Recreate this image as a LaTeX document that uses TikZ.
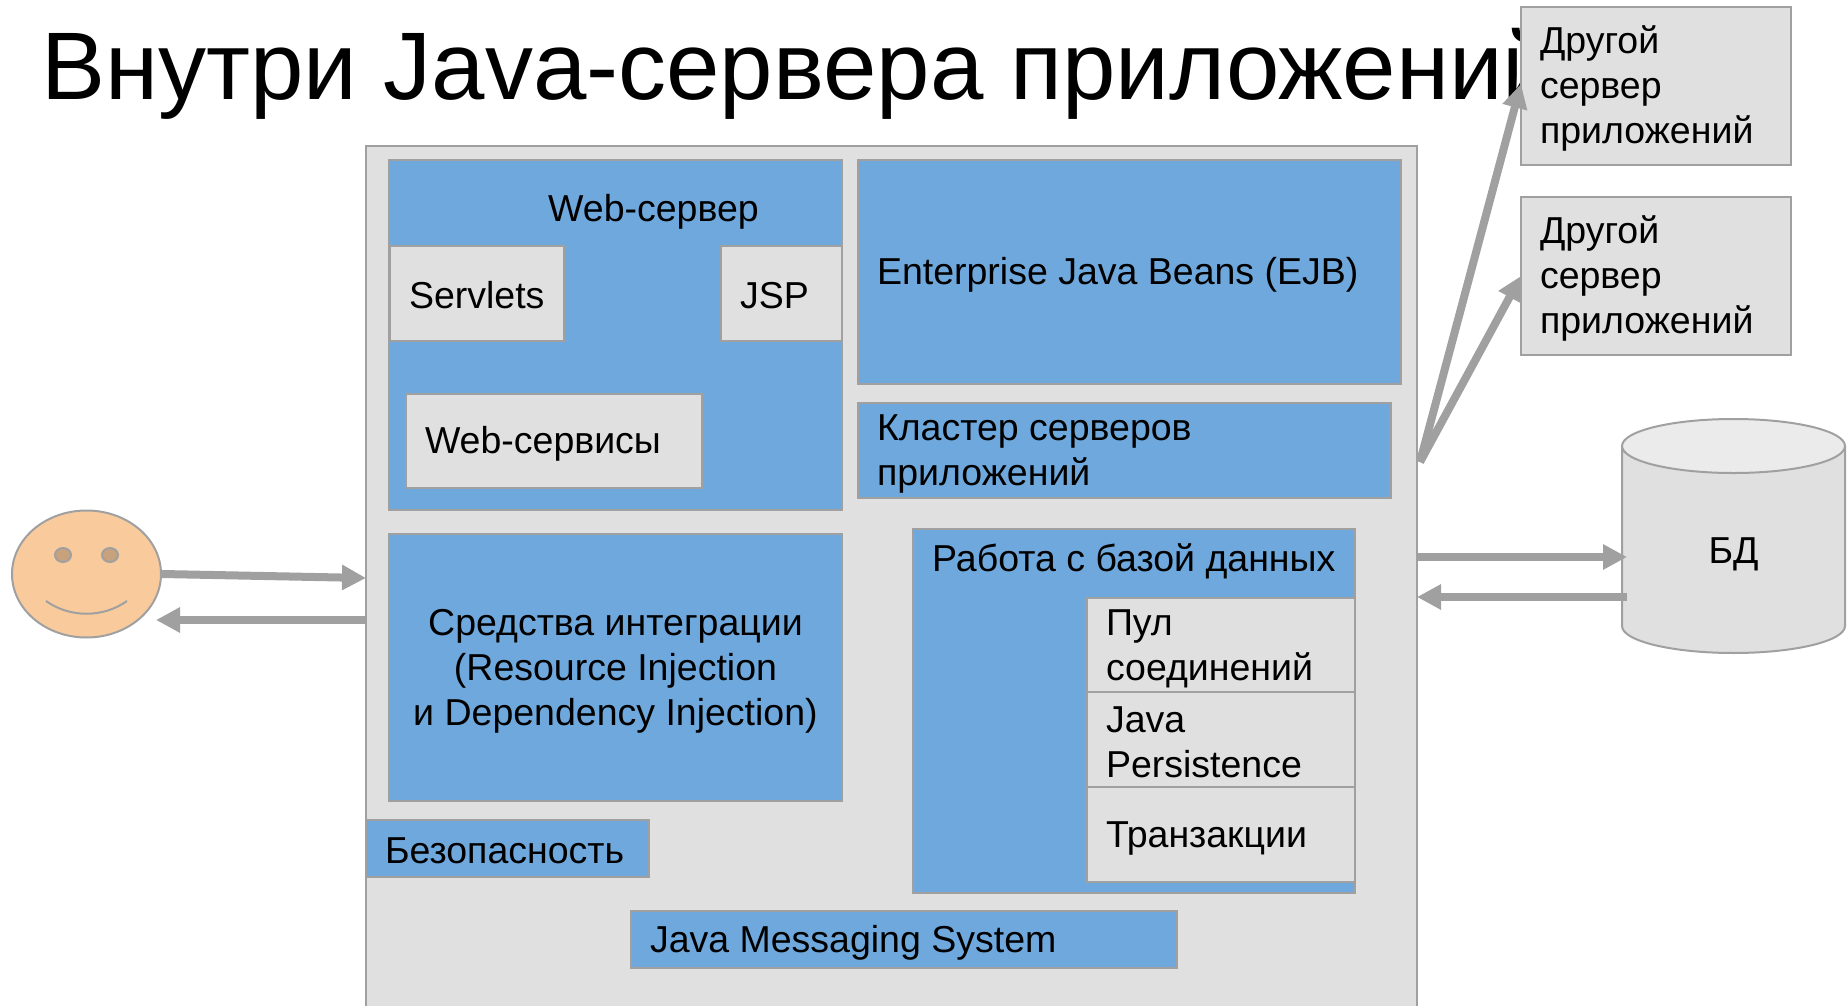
\documentclass[tikz,border=0pt]{standalone}
\usepackage{fontspec}
\setmainfont{Liberation Sans}
\usetikzlibrary{arrows.meta,shapes.geometric}
\definecolor{lineGray}{HTML}{A0A0A0}
\definecolor{boxGray}{HTML}{E0E0E0}
\definecolor{boxBlue}{HTML}{6FA8DC}
\definecolor{faceSkin}{HTML}{F9CB9C}
\definecolor{eyeBrown}{HTML}{C7A27D}
\definecolor{topGray}{HTML}{EBEBEB}
\tikzset{
    grayBox/.style={draw=lineGray,line width=2pt,fill=boxGray,anchor=north west,outer sep=0pt,inner xsep=19pt,inner ysep=0pt,
        align=flush left,font=\fontsize{37.5}{45}\selectfont,
        execute at begin node={\rule{0pt}{33.5pt}},execute at end node={\rule[-3pt]{0pt}{3pt}}},
    blueBox/.style={grayBox,fill=boxBlue},
    plainText/.style={anchor=west,inner sep=0pt,font=\fontsize{37.5}{45}\selectfont},
    flow/.style={draw=lineGray,line width=8pt,-{Triangle[length=24pt,width=24pt]}},
}
\begin{document}
\begin{tikzpicture}[x=1pt,y=-1pt]
    \useasboundingbox (0,0) rectangle (1848,1006);

    \node[anchor=west,inner sep=0pt,font=\fontsize{96}{110}\selectfont] (title) at (41,74) {Внутри Java-сервера приложений};

    % main box runs off the page
    \node[grayBox,text width=1013pt,minimum height=890pt] (server) at (366,146) {};

    \node[blueBox,text width=415pt,minimum height=350pt] (web) at (389,160) {};
    \node[plainText] (webText) at (548,212) {Web-сервер};
    \node[grayBox,text width=136pt,minimum height=95pt] (servlets) at (390,246) {Servlets};
    \node[grayBox,text width=83pt,minimum height=95pt] (jsp) at (721,246) {JSP};
    \node[grayBox,text width=258pt,minimum height=94pt] (services) at (406,394) {Web-сервисы};

    \node[blueBox,text width=505pt,minimum height=224pt] (ejb) at (858,160) {Enterprise Java Beans (EJB)};
    \node[blueBox,text width=495pt,minimum height=95pt] (cluster) at (858,403) {Кластер серверов\\приложений};

    \node[blueBox,text width=415pt,minimum height=267pt,align=flush center] (integration) at (389,534)
        {Средства интеграции\\(Resource Injection\\и Dependency Injection)};
    \node[blueBox,text width=245pt,minimum height=57pt] (security) at (366,820) {Безопасность};

    \node[blueBox,text width=404pt,minimum height=364pt] (database) at (913,529) {};
    \node[plainText] (databaseText) at (932,561.5) {Работа с базой данных};
    \node[grayBox,text width=230pt,minimum height=94pt] (pool) at (1087,598) {Пул\\соединений};
    \node[grayBox,text width=230pt,minimum height=95pt] (persistence) at (1087,692) {Java\\Persistence};
    \node[grayBox,text width=230pt,minimum height=95pt] (transactions) at (1087,787) {Транзакции};

    \node[blueBox,text width=508pt,minimum height=57pt] (messaging) at (631,911) {Java Messaging System};

    \node[grayBox,text width=232pt,minimum height=158pt] (otherA) at (1521,7) {Другой\\сервер\\приложений};
    \node[grayBox,text width=232pt,minimum height=158pt] (otherB) at (1521,197) {Другой\\сервер\\приложений};

    \node[shape=cylinder,shape border rotate=90,aspect=1.08,draw=lineGray,line width=2pt,anchor=shape center,
        cylinder uses custom fill,cylinder body fill=boxGray,cylinder end fill=topGray,
        minimum width=223pt,minimum height=234pt,inner sep=0pt,
        font=\fontsize{37.5}{45}\selectfont] (db) at (1733.5,536) {\phantom{БД}};
    \node[plainText,anchor=center] (dbText) at (1733.5,554) {БД};

    % user
    \node[shape=ellipse,draw=lineGray,line width=2pt,fill=faceSkin,minimum width=149pt,minimum height=127pt,inner sep=0pt] (face) at (86.5,574) {};
    \node[shape=ellipse,draw=lineGray,line width=2pt,fill=eyeBrown,minimum width=16pt,minimum height=14pt,inner sep=0pt] (eyeL) at (63,555) {};
    \node[shape=ellipse,draw=lineGray,line width=2pt,fill=eyeBrown,minimum width=16pt,minimum height=14pt,inner sep=0pt] (eyeR) at (110,555) {};
    \coordinate (smileL) at (46,601);
    \coordinate (smileR) at (127,601);
    \draw[lineGray,line width=2pt] (smileL) .. controls (70,618) and (103,618) .. (smileR);

    \coordinate (serverIn) at (366,578);
    \coordinate (serverOut) at (366,620);
    \coordinate (faceIn) at (156,620);
    \coordinate (serverDbOut) at (1417,557);
    \coordinate (dbIn) at (1627,557);
    \coordinate (dbOut) at (1627,597);
    \coordinate (serverDbIn) at (1417,597);
    \coordinate (serverCorner) at (1420,462);
    \coordinate (otherAIn) at (1521,84);
    \coordinate (otherBIn) at (1521,276);

    \draw[flow] (face.east) -- (serverIn);
    \draw[flow] (serverOut) -- (faceIn);
    \draw[flow] (serverDbOut) -- (dbIn);
    \draw[flow] (dbOut) -- (serverDbIn);
    \draw[flow] (serverCorner) -- (otherAIn);
    \draw[flow] (serverCorner) -- (otherBIn);
\end{tikzpicture}
\end{document}
